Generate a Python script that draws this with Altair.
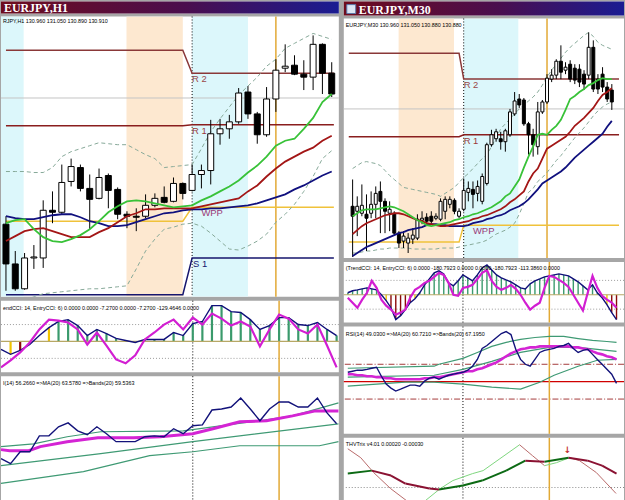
import altair as alt
import numpy as np
import pandas as pd

# ================= EURJPY,H1 (left window) =================
H1_OPEN = [129.41, 129.01, 128.76, 129.07, 129.07, 129.55, 129.53, 129.84, 129.98, 129.77,
           129.67, 129.90, 129.76, 129.51, 129.49, 129.49, 129.60, 129.68, 129.64, 129.82,
           129.75, 129.91, 129.95, 130.32, 130.37, 130.44, 130.74, 130.52, 130.31, 130.67,
           130.98, 131.01, 130.92, 130.89, 131.22, 130.93]
H1_CLOSE = [129.01, 128.76, 129.07, 129.08, 129.55, 129.53, 129.83, 129.99, 129.77, 129.66,
            129.88, 129.75, 129.51, 129.49, 129.48, 129.60, 129.67, 129.63, 129.82, 129.72,
            129.91, 129.95, 130.32, 130.37, 130.44, 130.73, 130.52, 130.31, 130.67, 130.96,
            131.00, 130.92, 130.89, 131.22, 130.93, 130.72]
H1_HIGH = [129.49, 129.14, 129.12, 129.20, 129.65, 129.74, 130.01, 130.07, 130.01, 129.91,
           129.97, 129.92, 129.78, 129.54, 129.57, 129.71, 129.72, 129.79, 129.88, 129.83,
           130.01, 130.01, 130.46, 130.47, 130.51, 130.78, 130.80, 130.54, 130.79, 131.07,
           131.22, 131.11, 131.06, 131.31, 131.23, 131.04]
H1_LOW = [128.74, 128.74, 128.75, 128.96, 128.97, 129.42, 129.51, 129.79, 129.74, 129.36,
          129.66, 129.57, 129.46, 129.37, 129.34, 129.47, 129.58, 129.62, 129.63, 129.66,
          129.74, 129.77, 129.81, 130.21, 130.27, 130.42, 130.47, 130.22, 130.29, 130.54,
          130.94, 130.91, 130.76, 130.76, 130.72, 130.69]
H1_MA_FAST = [129.42, 129.45, 129.46, 129.36, 129.28, 129.24, 129.23, 129.26, 129.30, 129.36,
              129.44, 129.53, 129.59, 129.64, 129.65, 129.64, 129.62, 129.60, 129.58, 129.59,
              129.60, 129.65, 129.69, 129.74, 129.79, 129.85, 129.93, 130.00, 130.09, 130.20,
              130.25, 130.27, 130.37, 130.48, 130.64, 130.72]
H1_MA_MID = [129.24, 129.29, 129.34, 129.36, 129.37, 129.34, 129.31, 129.28, 129.28, 129.28,
             129.33, 129.37, 129.43, 129.49, 129.52, 129.56, 129.56, 129.57, 129.57, 129.57,
             129.57, 129.59, 129.61, 129.63, 129.65, 129.67, 129.74, 129.80, 129.89, 129.97,
             130.04, 130.09, 130.14, 130.18, 130.25, 130.30]
H1_MA_SLOW = [129.49, 129.47, 129.46, 129.46, 129.48, 129.50, 129.51, 129.51, 129.48, 129.44,
              129.42, 129.39, 129.39, 129.40, 129.43, 129.46, 129.49, 129.52, 129.53, 129.55,
              129.56, 129.56, 129.57, 129.57, 129.58, 129.59, 129.60, 129.62, 129.65, 129.68,
              129.71, 129.76, 129.80, 129.85, 129.90, 129.94]
H1_BB_UP = [129.94, 129.94, 129.94, 129.93, 129.93, 129.98, 130.09, 130.14, 130.17, 130.20,
            130.23, 130.22, 130.21, 130.21, 130.16, 130.11, 130.07, 129.98, 129.99, 130.00,
            130.01, 130.17, 130.34, 130.47, 130.59, 130.71, 130.80, 130.89, 131.00, 131.07,
            131.18, 131.23, 131.28, 131.33, 131.30, 131.27]
H1_BB_LO = [128.59, 128.62, 128.65, 128.68, 128.71, 128.72, 128.73, 128.74, 128.75, 128.76,
            128.76, 128.77, 128.78, 128.79, 128.96, 129.14, 129.26, 129.36, 129.38, 129.41,
            129.42, 129.39, 129.32, 129.24, 129.16, 129.15, 129.19, 129.24, 129.31, 129.43,
            129.51, 129.61, 129.74, 129.89, 130.07, 130.15]
H1_PIVOT_NAMES = ["R 2", "R 1", "WPP", "S 1"]
H1_PIVOT_PREV = [131.16, 130.40, 129.44, 128.70]
H1_PIVOT_CUR = [130.93, 130.41, 129.58, 129.07]
H1_PIVOT_LABEL_AT = [20, 20, 21, 20.1]
H1_SESSION_START = [-1, 12.95, 20]
H1_SESSION_END = [1.9, 19, 26]
H1_SESSION_KIND = ["asia", "london", "asia"]
H1_WEEK_START = 20
H1_GOLD_LINE = 29
H1_BID = 130.68
H1_CCI_TREND = [-47, -76, -53, -18, 35, 82, 118, 129, 94, 35, 71, 47, 18, 6, -6, 12, 12, 12,
                53, 35, 106, 118, 212, 212, 176, 171, 129, 71, 94, 141, 141, 100, 94, 112, 71, 35]
H1_CCI_ENTRY = [-153, -112, -65, -6, 71, 129, 123, 112, 71, -18, 53, -24, -106, -129, -82, 12,
                53, 100, 129, 71, 141, 100, 165, 135, 94, 118, 88, -29, 71, 159, 135, 71, 47,
                100, -24, -153]
H1_CCI_STATE = ["n", "y", "r", "n", "n", "y", "g", "g", "g", "g", "g", "g", "g", "g", "g", "g",
                "g", "g", "g", "g", "g", "g", "g", "g", "g", "g", "g", "g", "g", "g", "g", "g",
                "g", "g", "g", "g"]
H1_RSI = [36.6, 33.8, 40.5, 40.5, 49.5, 49.5, 54.6, 56.8, 52.3, 50.1, 54.6, 50.7, 46.2, 46.2,
          46.2, 49.0, 49.5, 49.0, 53.5, 50.7, 55.2, 55.7, 64.1, 64.7, 65.8, 70.9, 64.7, 58.0,
          64.7, 68.6, 68.6, 65.8, 65.8, 70.9, 62.5, 56.3]
H1_RSI_MA_IDX = [0, 0.9, 2.9, 4.1, 6.9, 10.1, 13.8, 16.6, 20, 22.1, 24.9, 27.7, 30.4, 32.8, 35.2]
H1_RSI_MA = [41.7, 41.1, 41.1, 43.4, 46.2, 48.4, 48.4, 49.0, 50.7, 53.5, 57.4, 58.0, 60.8, 63.6, 63.6]
H1_RSI_BU_IDX = [0, 3.4, 6.9, 10.4, 19, 22.1, 26.9, 30.4, 35.2]
H1_RSI_BU = [43.4, 45.0, 49.0, 51.8, 52.3, 54.6, 58.0, 60.8, 68.1]
H1_RSI_BM_IDX = [0, 10.4, 20, 35.2]
H1_RSI_BM = [32.7, 39.4, 46.2, 56.3]
H1_RSI_BL_IDX = [0, 8.6, 15.5, 20, 24.9, 33.2, 35.2]
H1_RSI_BL = [22.6, 29.3, 38.3, 40.5, 43.9, 43.9, 46.2]

H1_TITLE = "EURJPY,H1"
H1_HEADER = "RJPY,H1  130.960 131.050 130.890 130.910"
H1_CCI_HEADER = "endCCI: 14, EntryCCI: 6)  0.0000 0.0000 -7.2700 0.0000 -7.2700 -129.4646 0.0000"
H1_RSI_HEADER = "I(14) 56.2660   =>MA(20) 63.5780   =>Bands(20) 59.5363"

# ================= EURJPY,M30 (right window) =================
M30_OPEN = [129.63, 129.58, 129.56, 129.55, 129.56, 129.65, 129.78, 129.68, 129.56, 129.56,
            129.36, 129.28, 129.26, 129.30, 129.31, 129.49, 129.52, 129.53, 129.51, 129.50,
            129.58, 129.65, 129.69, 129.53, 129.60, 129.77, 129.80, 129.76, 129.68, 129.86,
            130.25, 130.31, 130.31, 130.28, 130.35, 130.56, 130.71, 130.70, 130.46, 130.35,
            130.23, 130.58, 130.68, 130.91, 130.95, 131.09, 131.00, 131.06, 131.02, 131.01,
            130.96, 130.95, 131.23, 130.91, 130.96, 130.83, 130.80]
M30_CLOSE = [129.53, 129.63, 129.64, 129.51, 129.65, 129.76, 129.68, 129.58, 129.60, 129.36,
             129.26, 129.33, 129.31, 129.34, 129.50, 129.51, 129.48, 129.48, 129.53, 129.68,
             129.70, 129.70, 129.58, 129.58, 129.79, 129.81, 129.75, 129.83, 129.93, 130.25,
             130.35, 130.38, 130.28, 130.39, 130.58, 130.69, 130.65, 130.46, 130.35, 130.25,
             130.58, 130.68, 130.92, 130.95, 131.09, 130.98, 131.03, 130.91, 130.90, 130.88,
             130.86, 131.23, 130.81, 130.81, 130.83, 130.71, 130.68]
M30_HIGH = [129.90, 129.73, 129.85, 129.75, 129.78, 129.83, 129.88, 129.71, 129.68, 129.58,
            129.38, 129.38, 129.36, 129.41, 129.55, 129.58, 129.56, 129.58, 129.56, 129.71,
            129.73, 129.73, 129.71, 129.61, 129.91, 129.88, 129.88, 129.89, 129.96, 130.27,
            130.40, 130.41, 130.38, 130.41, 130.61, 130.78, 130.76, 130.72, 130.48, 130.41,
            130.68, 130.70, 130.96, 131.01, 131.11, 131.25, 131.08, 131.10, 131.06, 131.06,
            131.00, 131.38, 131.30, 130.96, 131.03, 130.88, 130.86]
M30_LOW = [129.12, 129.33, 129.53, 129.18, 129.51, 129.51, 129.36, 129.36, 129.38, 129.34,
           129.21, 129.21, 129.16, 129.25, 129.29, 129.45, 129.44, 129.45, 129.49, 129.48,
           129.50, 129.61, 129.55, 129.51, 129.58, 129.68, 129.61, 129.68, 129.65, 129.84,
           130.23, 130.28, 130.20, 130.18, 130.33, 130.54, 130.62, 130.44, 130.15, 130.13,
           130.15, 130.56, 130.66, 130.88, 130.91, 130.91, 130.96, 130.88, 130.86, 130.83,
           130.80, 130.91, 130.78, 130.76, 130.78, 130.68, 130.60]
M30_MA_FAST = [129.53, 129.56, 129.59, 129.60, 129.60, 129.60, 129.61, 129.62, 129.63, 129.62,
               129.60, 129.58, 129.55, 129.52, 129.49, 129.47, 129.44, 129.43, 129.44, 129.45,
               129.46, 129.47, 129.49, 129.50, 129.52, 129.53, 129.55, 129.56, 129.58, 129.60,
               129.62, 129.65, 129.68, 129.73, 129.76, 129.83, 129.90, 130.02, 130.13, 130.23,
               130.35, 130.36, 130.35, 130.40, 130.44, 130.50, 130.60, 130.71, 130.74, 130.78,
               130.81, 130.85, 130.87, 130.90, 130.92, 130.91, 130.91]
M30_MA_MID = [129.35, 129.39, 129.43, 129.46, 129.48, 129.50, 129.52, 129.54, 129.55, 129.56,
              129.56, 129.55, 129.53, 129.51, 129.49, 129.48, 129.46, 129.45, 129.44, 129.43,
              129.43, 129.44, 129.45, 129.46, 129.47, 129.48, 129.50, 129.51, 129.53, 129.54,
              129.56, 129.58, 129.60, 129.63, 129.67, 129.70, 129.74, 129.78, 129.88, 129.96,
              130.01, 130.11, 130.21, 130.24, 130.27, 130.30, 130.33, 130.38, 130.44, 130.48,
              130.52, 130.57, 130.62, 130.69, 130.75, 130.78, 130.82]
M30_MA_SLOW = [129.13, 129.16, 129.19, 129.22, 129.24, 129.26, 129.28, 129.30, 129.32, 129.34,
               129.36, 129.37, 129.39, 129.40, 129.41, 129.42, 129.44, 129.45, 129.45, 129.44,
               129.44, 129.43, 129.43, 129.43, 129.43, 129.44, 129.46, 129.47, 129.48, 129.50,
               129.51, 129.53, 129.54, 129.56, 129.59, 129.61, 129.63, 129.66, 129.70, 129.75,
               129.80, 129.86, 129.89, 129.92, 129.95, 129.98, 130.02, 130.07, 130.12, 130.16,
               130.20, 130.24, 130.28, 130.32, 130.36, 130.43, 130.49]
M30_BB_UP = [130.01, 130.04, 130.07, 130.08, 130.07, 130.06, 130.04, 129.99, 129.94, 129.90,
             129.86, 129.82, 129.81, 129.80, 129.79, 129.78, 129.77, 129.76, 129.75, 129.73,
             129.76, 129.79, 129.82, 129.87, 129.92, 129.96, 130.01, 130.06, 130.11, 130.15,
             130.23, 130.32, 130.41, 130.46, 130.51, 130.56, 130.61, 130.65, 130.69, 130.73,
             130.78, 130.85, 130.93, 131.00, 131.06, 131.12, 131.18, 131.23, 131.27, 131.31,
             131.35, 131.38, 131.34, 131.28, 131.25, 131.23, 131.21]
M30_BB_LO = [129.16, 129.16, 129.17, 129.18, 129.18, 129.19, 129.20, 129.20, 129.21, 129.21,
             129.21, 129.21, 129.21, 129.20, 129.20, 129.20, 129.20, 129.20, 129.20, 129.21,
             129.21, 129.21, 129.21, 129.22, 129.23, 129.24, 129.25, 129.26, 129.27, 129.29,
             129.32, 129.35, 129.37, 129.39, 129.42, 129.46, 129.55, 129.66, 129.77, 129.81,
             129.88, 129.92, 129.97, 130.03, 130.09, 130.14, 130.20, 130.26, 130.32, 130.37,
             130.42, 130.48, 130.54, 130.59, 130.63, 130.66, 130.68]
M30_PIVOT_NAMES = ["R 2", "R 1", "WPP", "S 1"]
M30_PIVOT_PREV = [131.17, 130.33, 129.27, 128.60]
M30_PIVOT_CUR = [130.91, 130.35, 129.44, 128.95]
M30_PIVOT_LABEL_AT = [24, 24, 26, 24]
M30_SESSION_START = [9.94, 24]
M30_SESSION_END = [21.9, 35.8]
M30_SESSION_KIND = ["london", "asia"]
M30_WEEK_START = 24
M30_GOLD_LINE = 42
M30_BID = 130.61
M30_CCI_TREND = [14, 28, 34, 41, 48, 41, 34, 0, -41, -90, -172, -145, -103, -55, -28, 14, 69,
                 110, 152, 166, 145, 83, 62, 97, 138, 117, 97, 138, 186, 207, 172, 138, 117, 103,
                 90, 69, 48, 41, 76, 97, 110, 124, 131, 138, 145, 138, 131, 110, 90, 62, 34, 69,
                 14, -21, -69, -124, -172]
M30_CCI_ENTRY = [-21, -55, -90, -34, 14, 97, 48, -34, -76, -103, -138, -124, -103, -21, 34, 55,
                 83, 97, 124, 152, 138, 83, 0, -7, 48, 55, 69, 110, 152, 172, 97, 55, 34, 48, 69,
                 41, 0, -55, -103, -76, -55, 48, 131, 124, 103, 83, 55, 0, -55, -110, 14, 131,
                 48, -7, -34, -55, -90]
M30_CCI_STATE = ["g", "g", "g", "g", "g", "g", "g", "n", "y", "r", "r", "r", "r", "r", "y", "g",
                 "g", "g", "g", "g", "g", "g", "g", "g", "g", "g", "g", "g", "g", "g", "g", "g",
                 "g", "g", "g", "g", "g", "g", "g", "g", "g", "g", "g", "g", "g", "g", "g", "g",
                 "g", "g", "g", "g", "g", "y", "y", "r", "r"]
M30_RSI = [55.4, 56.0, 56.6, 56.6, 57.1, 57.7, 58.3, 53.1, 48.6, 46.3, 44.6, 45.7, 46.9, 48.0,
           48.0, 47.4, 50.3, 52.0, 52.6, 51.4, 52.6, 53.7, 54.3, 54.9, 55.4, 56.6, 58.9, 62.8,
           69.1, 70.8, 73.1, 75.4, 77.7, 78.8, 77.1, 68.6, 62.8, 60.0, 58.9, 62.8, 66.8, 68.0,
           68.6, 69.1, 70.3, 70.8, 72.0, 69.1, 66.8, 68.0, 68.6, 65.7, 62.8, 60.0, 57.1, 54.3, 49.0]
M30_RSI_MA = [54.3, 54.3, 53.7, 53.7, 53.1, 53.1, 52.6, 52.6, 52.0, 52.0, 51.4, 51.4, 51.4,
              51.4, 51.4, 51.4, 52.0, 52.0, 52.6, 52.6, 53.1, 53.7, 54.3, 54.9, 55.4, 56.0, 56.0,
              57.1, 57.7, 58.9, 60.0, 61.1, 62.8, 64.6, 66.3, 67.4, 68.6, 69.1, 69.7, 69.7, 70.3,
              70.3, 70.3, 70.3, 70.3, 70.3, 70.3, 69.7, 69.7, 69.1, 68.6, 67.4, 66.3, 65.7, 64.6,
              64.0, 62.8]
M30_RSI_BU_IDX = [0, 18, 19, 24, 27, 30, 33, 36, 39, 42, 45, 48, 51, 54, 56]
M30_RSI_BU = [57.7, 58.9, 60.0, 63.4, 66.8, 70.3, 72.6, 74.3, 75.4, 76.0, 76.0, 74.8, 73.7, 73.1, 72.6]
M30_RSI_BM_IDX = [0, 18, 24, 30, 36, 42, 48, 54, 56]
M30_RSI_BM = [52.6, 53.7, 57.1, 61.7, 66.8, 69.7, 69.7, 68.0, 67.4]
M30_RSI_BL_IDX = [0, 12, 18, 24, 30, 36, 40, 43, 48, 52, 56]
M30_RSI_BL = [47.4, 49.7, 49.7, 48.6, 46.9, 45.7, 49.7, 53.7, 58.9, 62.3, 62.8]
M30_RSI_LEVELS = [60, 50, 40]
M30_THV_SIG_IDX = [0, 5, 9, 12, 17, 19, 24, 28, 33, 37, 41, 46, 50, 53, 56]
M30_THV_SIG = [0.00014, 0.00017, 0.00012, 0.00004, -0.00001, -0.00002, 0.00002, 0.00007,
               0.00017, 0.00027, 0.00026, 0.00030, 0.00027, 0.00022, 0.00014]
M30_THV_TRIX_IDX = [0, 2.7, 5.4, 8.9, 13, 15.7, 19.3, 21.9, 26, 28.2, 31.7, 35.8, 38.5, 41,
                    43.5, 46.2, 48.3, 51.8, 55.9]
M30_THV_TRIX = [0.00039, 0.00030, 0.00015, -0.00001, -0.00016, -0.00015, -0.00001, 0.00007,
                0.00014, 0.00017, 0.00029, 0.00043, 0.00032, 0.00022, 0.00025, 0.00030,
                0.00027, 0.00015, -0.00006]
M30_THV_ARROW_AT = 45.8
M30_THV_ARROW_VALUE = 0.00038

M30_TITLE = "EURJPY,M30"
M30_HEADER = "EURJPY,M30  130.960 131.050 130.880 130.880"
M30_CCI_HEADER = "(TrendCCI: 14, EntryCCI: 6)  0.0000 -180.7923 0.0000 0.0000 -180.7923 -113.3860 0.0000"
M30_RSI_HEADER = "RSI(14) 49.0300   =>MA(20) 60.7210   =>Bands(20) 67.1950"
M30_THV_HEADER = "THVTrix v4.01 0.00020 -0.00030"

# ================= styles =================
FONT = "Liberation Sans"
HDR_SIZE = 5.4
SESSION_COLORS = {"asia": "#dcf7fb", "london": "#fde8d0"}
PIVOT_LINE_COLORS = {"R 2": "#8a3838", "R 1": "#8a1e1e", "WPP": "#f0c23a", "S 1": "#16166e"}
PIVOT_TEXT_COLORS = {"R 2": "#9a4848", "R 1": "#9a3a3a", "WPP": "#9a3a78", "S 1": "#16166e"}
CCI_COLORS = {"g": "#3a9a6c", "y": "#f0c400", "r": "#8b0a0a"}


def X(xs, f="i"):
    return alt.X(f"{f}:Q", scale=xs, axis=None)


def Y(ys, f):
    return alt.Y(f"{f}:Q", scale=ys, axis=None)


def header(text, y):
    return alt.Chart(pd.DataFrame({"t": [text]})).mark_text(
        align="left", baseline="middle", font=FONT, fontSize=HDR_SIZE, color="#000000"
    ).encode(x=alt.value(2), y=alt.value(y), text="t:N")


def line_layer(idx, vals, xs, ys, color, width, dash=None):
    d = pd.DataFrame({"i": idx, "v": vals})
    kw = dict(color=color, strokeWidth=width, clip=True)
    if dash:
        kw["strokeDash"] = dash
    return alt.Chart(d).mark_line(**kw).encode(x=X(xs), y=Y(ys, "v"))


def vlines(xs, week, gold):
    g = alt.Chart(pd.DataFrame({"i": [gold]})).mark_rule(color="#e2a935", strokeWidth=1.5).encode(x=X(xs))
    d = alt.Chart(pd.DataFrame({"i": [week]})).mark_rule(color="#000000", strokeWidth=1, strokeDash=[1, 2]).encode(x=X(xs))
    return [g, d]


def title_bar(text, w, h, tx, icon=False):
    d = pd.DataFrame({"t": [text]})
    grad = alt.LinearGradient(
        gradient="linear",
        stops=[alt.GradientStop(color="#6e0c1e", offset=0),
               alt.GradientStop(color="#4a0e4e", offset=0.55),
               alt.GradientStop(color="#1a1c92", offset=1)],
        x1=0, x2=1, y1=0, y2=0)
    layers = [alt.Chart(d).mark_rect(color=grad).encode(
        x=alt.value(0), x2=alt.value(w), y=alt.value(0), y2=alt.value(h))]
    if icon:
        layers.append(alt.Chart(d).mark_rect(fill="#dce6f4", stroke="#5a78a8", strokeWidth=1).encode(
            x=alt.value(3), x2=alt.value(12), y=alt.value(3), y2=alt.value(12)))
    layers.append(alt.Chart(d).mark_text(
        align="left", baseline="alphabetic", font="Liberation Serif", fontWeight="bold",
        fontSize=12, color="#ffffff").encode(x=alt.value(tx), y=alt.value(h - 2), text="t:N"))
    return alt.layer(*layers).properties(width=w, height=h)


def price_panel(o, c, h, l, fast, mid, slow, bbu, bbl, s_start, s_end, s_kind,
                pnames, pprev, pcur, plabel, week, gold, bid, xdom, ydom, w, ht, body_w,
                head, head_y):
    xs = alt.Scale(domain=xdom, nice=False, zero=False)
    ys = alt.Scale(domain=ydom, nice=False, zero=False)
    n = len(o)
    idx = list(range(n))
    cd = pd.DataFrame({"i": idx, "o": o, "c": c, "h": h, "l": l})
    cd["fill"] = np.where(cd["c"] < cd["o"], "#000000", "#ffffff")

    sess = pd.DataFrame({"s": s_start, "e": s_end, "k": [SESSION_COLORS[k] for k in s_kind]})
    l_sess = alt.Chart(sess).mark_rect(clip=True).encode(
        x=X(xs, "s"), x2="e:Q", y=alt.value(0), y2=alt.value(ht),
        color=alt.Color("k:N", scale=None))
    l_bid = alt.Chart(pd.DataFrame({"v": [bid]})).mark_rule(color="#c4c4c4", strokeWidth=1).encode(y=Y(ys, "v"))

    rows = []
    for nm, p0, p1 in zip(pnames, pprev, pcur):
        col = PIVOT_LINE_COLORS[nm]
        rows += [dict(i=xdom[0], v=p0, n=nm, c=col), dict(i=week - 1, v=p0, n=nm, c=col),
                 dict(i=week, v=p1, n=nm, c=col), dict(i=xdom[1], v=p1, n=nm, c=col)]
    pv = pd.DataFrame(rows)
    l_piv = alt.Chart(pv).mark_line(strokeWidth=1.5, clip=True).encode(
        x=X(xs), y=Y(ys, "v"), detail="n:N", color=alt.Color("c:N", scale=None))
    lab = pd.DataFrame({"i": plabel, "v": pcur, "n": pnames,
                        "c": [PIVOT_TEXT_COLORS[k] for k in pnames]})
    l_lab = alt.Chart(lab).mark_text(align="left", baseline="top", dy=1, font=FONT, fontSize=9.5,
                                     clip=True).encode(
        x=X(xs), y=Y(ys, "v"), text="n:N", color=alt.Color("c:N", scale=None))

    l_bbu = line_layer(idx, bbu, xs, ys, "#86a898", 1, [4, 3])
    l_bbl = line_layer(idx, bbl, xs, ys, "#86a898", 1, [4, 3])

    l_wick = alt.Chart(cd).mark_rule(color="#000000", strokeWidth=1, clip=True).encode(
        x=X(xs), y=Y(ys, "l"), y2="h:Q")
    l_body = alt.Chart(cd).mark_bar(size=body_w, stroke="#000000", strokeWidth=1, clip=True).encode(
        x=X(xs), y=Y(ys, "o"), y2="c:Q", fill=alt.Fill("fill:N", scale=None))

    l_slow = line_layer(idx, slow, xs, ys, "#10107e", 1.8)
    l_mid = line_layer(idx, mid, xs, ys, "#a31616", 1.8)
    l_fast = line_layer(idx, fast, xs, ys, "#38c238", 1.8)

    layers = [l_sess, l_bid] + vlines(xs, week, gold) + [l_piv, l_lab, l_bbu, l_bbl, l_wick, l_body,
                                                         l_slow, l_mid, l_fast, header(head, head_y)]
    return alt.layer(*layers).properties(width=w, height=ht)


def cci_panel(trend, entry, state, xdom, ydom, w, ht, bar_w, week, gold, head, head_y):
    xs = alt.Scale(domain=xdom, nice=False, zero=False)
    ys = alt.Scale(domain=ydom, nice=False, zero=False)
    n = len(trend)
    idx = list(range(n))
    d = pd.DataFrame({"i": idx, "t": trend, "k": state, "z": [0] * n})
    d = d[d["k"] != "n"].copy()
    d["c"] = [CCI_COLORS[k] for k in d["k"]]
    l_lv = alt.Chart(pd.DataFrame({"v": [100, -100]})).mark_rule(
        color="#9a9a9a", strokeDash=[1, 2], strokeWidth=1).encode(y=Y(ys, "v"))
    l_hist = alt.Chart(d).mark_rule(strokeWidth=bar_w, clip=True).encode(
        x=X(xs), y=Y(ys, "z"), y2="t:Q", color=alt.Color("c:N", scale=None))
    l_zero = alt.Chart(pd.DataFrame({"v": [0]})).mark_rule(color="#b7a866", strokeWidth=1.2).encode(y=Y(ys, "v"))
    l_t = line_layer(idx, trend, xs, ys, "#10107a", 1.4)
    l_e = line_layer(idx, entry, xs, ys, "#d21ed2", 2.2)
    layers = [l_lv] + vlines(xs, week, gold) + [l_hist, l_zero, l_t, l_e, header(head, head_y)]
    return alt.layer(*layers).properties(width=w, height=ht)


def rsi_panel(rsi, ma_idx, ma, bands, levels, xdom, ydom, w, ht, week, gold, head, head_y, ma_w):
    xs = alt.Scale(domain=xdom, nice=False, zero=False)
    ys = alt.Scale(domain=ydom, nice=False, zero=False)
    idx = list(range(len(rsi)))
    layers = []
    if levels:
        lv = pd.DataFrame({"v": levels, "k": ["hi", "mid", "lo"]})
        layers.append(alt.Chart(lv[lv.k != "mid"]).mark_rule(
            color="#a43a3a", strokeWidth=1, strokeDash=[6, 2, 1, 2]).encode(y=Y(ys, "v")))
        layers.append(alt.Chart(lv[lv.k == "mid"]).mark_rule(
            color="#d00000", strokeWidth=1.2).encode(y=Y(ys, "v")))
    layers += vlines(xs, week, gold)
    for bi, bv in bands:
        layers.append(line_layer(bi, bv, xs, ys, "#3f9a74", 1.2))
    layers.append(line_layer(ma_idx, ma, xs, ys, "#d424d4", ma_w))
    layers.append(line_layer(idx, rsi, xs, ys, "#12127a", 1.4))
    layers.append(header(head, head_y))
    return alt.layer(*layers).properties(width=w, height=ht)


def segments(idx, vals, up, down, xs, ys, width):
    rows = []
    for k in range(len(idx) - 1):
        col = up if vals[k + 1] >= vals[k] else down
        rows.append(dict(i=idx[k], v=vals[k], seg=k, col=col))
        rows.append(dict(i=idx[k + 1], v=vals[k + 1], seg=k, col=col))
    return alt.Chart(pd.DataFrame(rows)).mark_line(strokeWidth=width, clip=True).encode(
        x=X(xs), y=Y(ys, "v"), detail="seg:N", color=alt.Color("col:N", scale=None))


def thv_panel(xdom, ydom, w, ht, week, gold, head, head_y):
    xs = alt.Scale(domain=xdom, nice=False, zero=False)
    ys = alt.Scale(domain=ydom, nice=False, zero=False)
    layers = []
    layers.append(alt.Chart(pd.DataFrame({"v": [0]})).mark_rule(
        color="#8a8a8a", strokeDash=[1, 2], strokeWidth=1).encode(y=Y(ys, "v")))
    layers += vlines(xs, week, gold)
    layers.append(segments(M30_THV_TRIX_IDX, M30_THV_TRIX, "#7ed67e", "#b86a6a", xs, ys, 1))
    layers.append(segments(M30_THV_SIG_IDX, M30_THV_SIG, "#0c6a14", "#8a1232", xs, ys, 2))
    layers.append(alt.Chart(pd.DataFrame({"i": [M30_THV_ARROW_AT], "v": [M30_THV_ARROW_VALUE], "t": ["↓"]}))
                  .mark_text(font="DejaVu Sans", fontSize=9, fontWeight="bold", color="#c23030")
                  .encode(x=X(xs), y=Y(ys, "v"), text="t:N"))
    layers.append(header(head, head_y))
    return alt.layer(*layers).properties(width=w, height=ht)


# ---------------- left column ----------------
LW = 340
H1_X = [0, 35.23]
left = alt.vconcat(
    title_bar(H1_TITLE, LW, 12, 3),
    price_panel(H1_OPEN, H1_CLOSE, H1_HIGH, H1_LOW, H1_MA_FAST, H1_MA_MID, H1_MA_SLOW, H1_BB_UP,
                H1_BB_LO, H1_SESSION_START, H1_SESSION_END, H1_SESSION_KIND, H1_PIVOT_NAMES,
                H1_PIVOT_PREV, H1_PIVOT_CUR, H1_PIVOT_LABEL_AT, H1_WEEK_START, H1_GOLD_LINE, H1_BID,
                H1_X, [128.68, 131.50], LW, 282, 6, H1_HEADER, 4.5),
    cci_panel(H1_CCI_TREND, H1_CCI_ENTRY, H1_CCI_STATE, H1_X, [-182, 241], LW, 72, 2.2,
              H1_WEEK_START, H1_GOLD_LINE, H1_CCI_HEADER, 7),
    rsi_panel(H1_RSI, H1_RSI_MA_IDX, H1_RSI_MA,
              [(H1_RSI_BU_IDX, H1_RSI_BU), (H1_RSI_BM_IDX, H1_RSI_BM), (H1_RSI_BL_IDX, H1_RSI_BL)],
              None, H1_X, [11.3, 83.2], LW, 128, H1_WEEK_START, H1_GOLD_LINE, H1_RSI_HEADER, 7, 3),
    spacing=2,
)

# ---------------- right column ----------------
RW = 282
M30_X = [-0.83, 57.56]
right = alt.vconcat(
    title_bar(M30_TITLE, RW, 14, 15, icon=True),
    price_panel(M30_OPEN, M30_CLOSE, M30_HIGH, M30_LOW, M30_MA_FAST, M30_MA_MID, M30_MA_SLOW,
                M30_BB_UP, M30_BB_LO, M30_SESSION_START, M30_SESSION_END, M30_SESSION_KIND,
                M30_PIVOT_NAMES, M30_PIVOT_PREV, M30_PIVOT_CUR, M30_PIVOT_LABEL_AT, M30_WEEK_START,
                M30_GOLD_LINE, M30_BID, M30_X, [129.11, 131.52], RW, 241, 3, M30_HEADER, 7),
    cci_panel(M30_CCI_TREND, M30_CCI_ENTRY, M30_CCI_STATE, M30_X, [-193, 228], RW, 61, 1.4,
              M30_WEEK_START, M30_GOLD_LINE, M30_CCI_HEADER, 6),
    rsi_panel(M30_RSI, list(range(len(M30_RSI_MA))), M30_RSI_MA,
              [(M30_RSI_BU_IDX, M30_RSI_BU), (M30_RSI_BM_IDX, M30_RSI_BM), (M30_RSI_BL_IDX, M30_RSI_BL)],
              M30_RSI_LEVELS, M30_X, [20.0, 81.7], RW, 108, M30_WEEK_START, M30_GOLD_LINE,
              M30_RSI_HEADER, 8, 2.6),
    thv_panel(M30_X, [-0.00018, 0.00050], RW, 68, M30_WEEK_START, M30_GOLD_LINE, M30_THV_HEADER, 6),
    spacing=2,
)

chart = alt.hconcat(left, right, spacing=3).properties(
    padding=0, background="#a6a6a6"
).configure_view(stroke=None, fill="#ffffff")

chart.save("out.html", embed_options={"renderer": "svg", "actions": False})
